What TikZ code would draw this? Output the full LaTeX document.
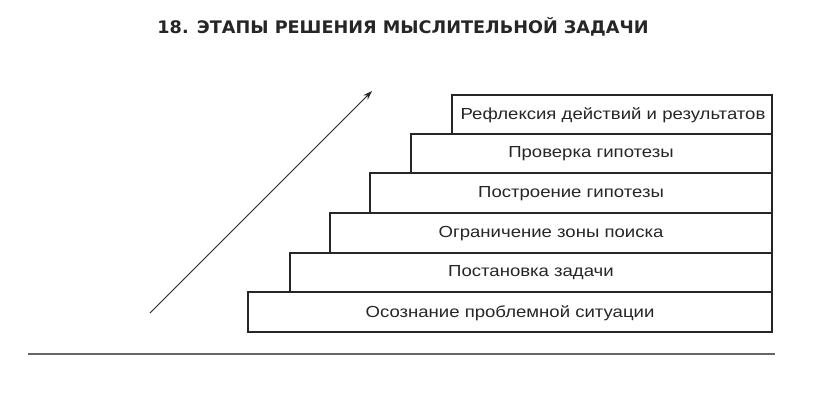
\documentclass[tikz,border=0pt]{standalone}
\usepackage{fontspec}
\setmainfont{Liberation Sans}
\newfontfamily\titlefont[FakeStretch=1.02]{DejaVu Sans}
\newfontfamily\stepfont[FakeStretch=1.16]{Liberation Sans}
\usetikzlibrary{arrows.meta}
\begin{document}
\begin{tikzpicture}[x=1pt,y=-1pt,
  stepbox/.style={draw=black!85,line width=1.1pt,fill=white},
  steplabel/.style={font=\stepfont\fontsize{16}{18}\selectfont,text=black!85},
]
\useasboundingbox (0,0) rectangle (816,412);
\node[font=\titlefont\bfseries\fontsize{17.3}{20}\selectfont,text=black!85] (title) at (403,27) {18. ЭТАПЫ РЕШЕНИЯ МЫСЛИТЕЛЬНОЙ ЗАДАЧИ};
% steps
\draw[stepbox] (248,292) rectangle (772,332);
\draw[stepbox] (290,253) rectangle (772,292);
\draw[stepbox] (330,213) rectangle (772,253);
\draw[stepbox] (370,173) rectangle (772,213);
\draw[stepbox] (411,134) rectangle (772,173);
\draw[stepbox] (452,95) rectangle (772,134);
\node[steplabel] (s1) at (510,313) {Осознание проблемной ситуации};
\node[steplabel] (s2) at (531,273) {Постановка задачи};
\node[steplabel] (s3) at (551,234) {Ограничение зоны поиска};
\node[steplabel] (s4) at (571,194) {Построение гипотезы};
\node[steplabel] (s5) at (591,154) {Проверка гипотезы};
\node[steplabel] (s6) at (613,115) {Рефлексия действий и результатов};
% arrow
\coordinate (a0) at (150,313);
\coordinate (a1) at (372,91);
\draw[line width=1pt,black!85,-{Stealth[length=9pt,width=6pt]}] (a0) -- (a1);
% baseline
\coordinate (l0) at (28,354);
\coordinate (l1) at (775,354);
\draw[line width=1.6pt,black!60] (l0) -- (l1);
\end{tikzpicture}
\end{document}
